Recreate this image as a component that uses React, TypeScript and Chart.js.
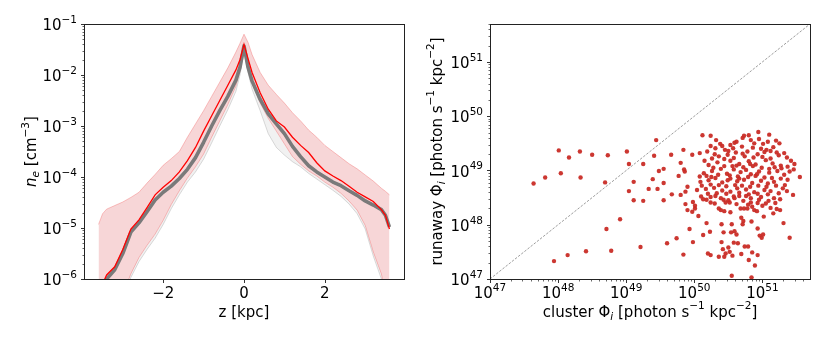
import React, { useEffect, useRef } from 'react';
import { Chart, registerables } from 'chart.js';

Chart.register(...registerables);

// ---------------- LEFT PANEL DATA (log10 n_e vs z) ----------------
const zKpc = [
  -3.6, -3.5, -3.4, -3.2, -3.0, -2.8, -2.6, -2.4, -2.2, -2.0, -1.8, -1.6, -1.4, -1.2, -1.0, -0.8, -0.6, -0.4, -0.2, -0.1,
  0,
  0.1, 0.2, 0.4, 0.6, 0.8, 1.0, 1.2, 1.4, 1.6, 1.8, 2.0, 2.2, 2.4, 2.6, 2.8, 3.0, 3.2, 3.4, 3.5, 3.6,
];
const logRedMedian = [
  -6.5, -6.1, -5.92, -5.76, -5.42, -5.02, -4.84, -4.6, -4.35, -4.2, -4.07, -3.9, -3.68, -3.42, -3.1, -2.8, -2.5, -2.2, -1.9, -1.7,
  -1.4,
  -1.68, -1.95, -2.35, -2.67, -2.9, -3.02, -3.22, -3.38, -3.52, -3.72, -3.88, -3.98, -4.07, -4.18, -4.3, -4.39, -4.48, -4.64, -4.75, -5.02,
];
const logGreyMedian = [
  -6.5, -6.2, -6.0, -5.82, -5.5, -5.08, -4.9, -4.68, -4.45, -4.3, -4.18, -4.03, -3.85, -3.62, -3.32, -3.0, -2.7, -2.42, -2.1, -1.85,
  -1.43,
  -1.85, -2.12, -2.48, -2.76, -2.96, -3.15, -3.4, -3.6, -3.78, -3.9, -4.0, -4.1, -4.17, -4.27, -4.36, -4.47, -4.55, -4.64, -4.75, -4.98,
];
const logRedUpper = [
  -4.93, -4.72, -4.63, -4.56, -4.49, -4.4, -4.3, -4.12, -3.95, -3.77, -3.64, -3.5, -3.22, -2.96, -2.7, -2.42, -2.14, -1.86, -1.55, -1.38,
  -1.2,
  -1.36, -1.6, -1.95, -2.2, -2.38, -2.55, -2.74, -2.9, -3.08, -3.22, -3.38, -3.5, -3.62, -3.74, -3.84, -3.96, -4.08, -4.22, -4.28, -4.35,
];
const logRedLower = [
  -7.0, -6.9, -6.8, -6.6, -6.3, -5.9, -5.58, -5.34, -5.12, -4.85, -4.54, -4.27, -4.02, -3.8, -3.55, -3.22, -2.9, -2.58, -2.22, -1.92,
  -1.5,
  -1.85, -2.15, -2.55, -2.85, -3.1, -3.35, -3.6, -3.75, -3.88, -3.98, -4.1, -4.2, -4.32, -4.47, -4.65, -4.95, -5.47, -5.9, -6.3, -6.6,
];
// grey spread: only its part outside the red spread is visible
const logGreyUpper = [
  -7.0, -6.9, -6.8, -6.6, -6.3, -5.9, -5.58, -5.34, -5.12, -4.85, -4.54, -4.27, -4.02, -3.8, -3.55, -3.22, -2.9, -2.58, -2.22, -1.92,
  -1.5,
  -1.85, -2.15, -2.55, -2.85, -3.1, -3.35, -3.6, -3.75, -3.88, -3.98, -4.1, -4.2, -4.32, -4.47, -4.65, -4.95, -5.47, -5.9, -6.3, -6.6,
];
const logGreyLower = [
  -7.1, -7.0, -6.9, -6.7, -6.4, -5.97, -5.66, -5.42, -5.2, -4.93, -4.62, -4.35, -4.1, -3.9, -3.65, -3.33, -3.0, -2.68, -2.32, -2.0,
  -1.55,
  -1.95, -2.28, -2.7, -3.15, -3.42, -3.57, -3.7, -3.8, -3.93, -4.04, -4.15, -4.26, -4.38, -4.53, -4.72, -5.02, -5.55, -6.0, -6.4, -6.7,
];

// ---------------- RIGHT PANEL DATA (log10 Phi) ----------------
const clusterLogPhi = [
  // sparse points
  47.64, 47.81, 48.01, 48.04, 48.16, 48.33, 48.32, 48.50, 48.73, 48.69,
  49.01, 49.04, 49.44, 49.41, 49.25, 49.48, 49.55, 49.66, 49.11, 49.04,
  49.11, 49.25, 49.33, 49.39, 49.46, 49.55, 49.55, 49.67, 49.77, 49.80,
  49.84, 49.86, 49.85, 49.90, 49.97, 49.97, 49.98, 49.93, 49.98, 49.84,
  49.74, 49.60, 49.21, 48.78, 48.41, 48.14, 47.94, 48.71, 48.91, 50.06,
  50.12, 50.24, 50.32, 50.24, 50.08, 50.08, 51.45, 51.55, 51.32, 51.36,
  50.94, 51.10, 50.80, 50.71,
  // lower part of cluster
  49.87, 50.01, 50.01, 49.90, 50.13, 50.18, 50.24, 50.31, 50.36, 50.39,
  50.44, 50.43, 50.46, 50.52, 50.53, 50.59, 50.66, 50.68, 50.73, 50.78,
  50.83, 50.85, 50.88, 50.92, 50.93, 51.00, 51.09, 51.12, 51.19, 51.21,
  51.26, 51.26, 51.16, 51.02, 50.69, 50.72, 50.84, 50.93, 50.71, 51.31,
  50.18, 50.40, 50.55, 50.23, 50.43, 50.54, 50.59, 50.62, 50.96, 50.99,
  51.01, 51.40, 50.13, 50.40, 50.50, 50.58, 50.64, 50.74, 50.79, 50.42,
  50.20, 50.24, 50.36, 50.44, 50.46, 50.52, 50.56, 50.69, 50.85, 50.93,
  50.80, 50.89, 50.55, 50.84,
  // upper part of cluster
  50.73, 50.31, 50.41, 50.53, 50.59, 50.83, 50.88, 51.01, 51.08, 51.25,
  51.21, 51.12, 50.26, 50.36, 50.49, 50.61, 50.71, 50.78, 50.93, 51.03,
  50.21, 50.34, 50.53, 50.66, 50.80, 50.90, 51.05, 51.15, 51.27, 51.37,
  50.14, 50.26, 50.39, 50.48, 50.58, 50.68, 50.76, 50.83, 50.95, 51.10,
  51.22, 51.32, 50.21, 50.31, 50.41, 50.53, 50.63, 50.73, 50.85, 50.98,
  51.08, 51.17, 50.04, 50.17, 50.29, 50.41, 50.53, 50.63, 50.76, 50.88,
  51.03, 51.12, 51.30, 49.80, 49.87, 50.24, 50.39, 50.58, 50.83, 50.98,
  51.17, 50.09,
  // core of cluster
  50.45, 50.57, 50.70, 50.86, 50.98, 51.16, 51.20, 50.95, 50.62, 50.50,
  50.30, 50.19, 50.15, 50.44, 50.58, 50.74, 50.87, 51.00, 51.12, 51.24,
  51.42, 51.47, 51.40, 51.46, 50.28, 50.44, 50.62, 50.72, 50.86, 50.99,
  51.18, 51.28, 50.18, 50.35, 50.52, 50.64, 50.79, 50.90, 51.03, 51.14,
  51.27, 51.37, 50.11, 50.24, 50.36, 50.47, 50.60, 50.70, 50.82, 50.94,
  51.06, 51.20, 51.33, 50.20, 50.33, 50.47, 50.66, 50.80, 50.93, 51.08,
  51.24, 50.50, 50.72, 50.95, 50.62, 50.79, 51.05, 50.30, 50.10, 50.56,
  50.82, 50.38, 51.06, 50.76, 50.49, 50.92, 50.25, 51.10, 50.66, 51.36,
];
const runawayLogPhi = [
  // sparse points
  48.76, 48.87, 49.37, 48.95, 49.24, 48.87, 49.35, 49.29, 49.28, 48.78,
  49.35, 49.12, 49.56, 49.27, 49.12, 48.99, 49.03, 49.29, 48.79, 48.62,
  48.45, 48.44, 48.66, 48.84, 48.66, 48.77, 48.45, 48.56, 48.90, 49.14,
  49.38, 48.98, 49.02, 48.70, 49.29, 48.24, 48.42, 47.92, 47.68, 47.45,
  47.75, 47.66, 47.59, 47.52, 47.51, 47.44, 47.33, 47.92, 48.10, 48.16,
  49.65, 49.64, 49.56, 49.45, 49.32, 48.89, 48.55, 48.88, 49.32, 49.24,
  49.71, 49.66, 49.65, 49.60,
  // lower part of cluster
  48.38, 48.35, 48.30, 48.27, 48.47, 48.46, 48.41, 48.53, 48.30, 48.27,
  48.25, 48.46, 48.41, 48.41, 48.23, 48.49, 48.53, 48.30, 48.30, 48.30,
  48.41, 48.33, 48.27, 48.25, 48.40, 48.35, 48.44, 48.31, 48.40, 48.29,
  48.27, 48.47, 48.21, 48.15, 48.13, 48.07, 48.06, 47.93, 48.01, 48.03,
  48.03, 48.01, 48.01, 47.87, 47.86, 47.86, 47.88, 47.82, 47.80, 47.76,
  47.82, 47.76, 47.81, 47.68, 47.58, 47.67, 47.66, 47.60, 47.60, 47.55,
  47.47, 47.44, 47.41, 47.41, 47.47, 47.50, 47.43, 47.46, 47.49, 47.44,
  47.35, 47.25, 47.06, 47.03,
  // upper part of cluster
  49.64, 49.41, 49.45, 49.47, 49.51, 49.56, 49.50, 49.49, 49.53, 49.50,
  49.33, 49.36, 49.22, 49.26, 49.29, 49.33, 49.31, 49.35, 49.30, 49.34,
  49.10, 49.15, 49.18, 49.12, 49.17, 49.11, 49.19, 49.13, 49.09, 49.07,
  48.95, 48.99, 49.03, 48.94, 49.02, 48.97, 49.01, 48.93, 48.98, 48.96,
  48.99, 48.92, 48.82, 48.86, 48.78, 48.85, 48.80, 48.83, 48.77, 48.81,
  48.76, 48.79, 48.64, 48.66, 48.68, 48.63, 48.61, 48.67, 48.65, 48.60,
  48.64, 48.62, 48.67, 48.55, 48.61, 48.51, 48.49, 48.52, 48.49, 48.51,
  48.49, 48.79,
  // core of cluster
  49.38, 49.41, 49.44, 49.42, 49.40, 49.43, 49.55, 49.58, 49.53, 49.36,
  49.30, 49.35, 49.18, 49.21, 49.23, 49.26, 49.24, 49.25, 49.22, 49.28,
  49.18, 49.12, 48.98, 49.02, 49.05, 49.08, 49.09, 49.06, 49.08, 49.05,
  49.06, 49.04, 48.90, 48.92, 48.91, 48.89, 48.88, 48.90, 48.87, 48.86,
  48.85, 48.83, 48.72, 48.74, 48.73, 48.71, 48.73, 48.72, 48.70, 48.72,
  48.70, 48.72, 48.73, 48.57, 48.58, 48.57, 48.59, 48.56, 48.57, 48.56,
  48.58, 48.45, 48.44, 48.46, 48.38, 48.37, 48.39, 48.39, 48.52, 49.08,
  49.12, 49.49, 49.38, 48.53, 48.82, 48.93, 48.88, 49.03, 48.85, 48.62,
];

// ---------------- TICKS ----------------
const leftXMajor = [-2, 0, 2];
const leftYExponents = [-6, -5, -4, -3, -2, -1];
const rightExponents = [47, 48, 49, 50, 51];

const FAMILY = '"DejaVu Sans", "Liberation Sans", sans-serif';
const MINUS = '\u2212';

type Seg = { t: string; size?: number; dy?: number; italic?: boolean };
type AxisSpec = { major: number[]; minor: number[]; label: (v: number) => Seg[] };
type PanelSpec = { x: AxisSpec; y: AxisSpec; xTitle: Seg[]; yTitle: Seg[]; yTitleX: number };

const fontOf = (s: Seg) => `${s.italic ? 'italic ' : ''}${s.size ?? 15}px ${FAMILY}`;

function richWidth(ctx: CanvasRenderingContext2D, segs: Seg[]) {
  let w = 0;
  for (const s of segs) {
    ctx.font = fontOf(s);
    w += ctx.measureText(s.t).width;
  }
  return w;
}

function drawRich(ctx: CanvasRenderingContext2D, segs: Seg[], x: number, y: number, align: 'left' | 'center' | 'right') {
  const w = richWidth(ctx, segs);
  let cx = align === 'center' ? x - w / 2 : align === 'right' ? x - w : x;
  ctx.textAlign = 'left';
  ctx.textBaseline = 'alphabetic';
  for (const s of segs) {
    ctx.font = fontOf(s);
    ctx.fillText(s.t, cx, y + (s.dy ?? 0));
    cx += ctx.measureText(s.t).width;
  }
}

const SUP = { size: 10.5, dy: -7.2 };
const SUB = { size: 10.5, dy: 3, italic: true };

function powLabel(exp: number): Seg[] {
  const e = exp < 0 ? MINUS + Math.abs(exp) : String(exp);
  return [{ t: '10' }, { t: e, ...SUP }];
}

function logMinor(lo: number, hi: number, max: number) {
  const out: number[] = [];
  for (let e = lo; e <= hi; e++) {
    for (let k = 2; k <= 9; k++) {
      const v = k * Math.pow(10, e);
      if (v <= max * 1.0001) out.push(v);
    }
  }
  return out;
}

function makeAxesPlugin(spec: PanelSpec) {
  return {
    id: 'mplAxes',
    afterDatasetsDraw(chart: any) {
      const ctx: CanvasRenderingContext2D = chart.ctx;
      const a = chart.chartArea;
      const xs = chart.scales.x;
      const ys = chart.scales.y;
      ctx.save();
      ctx.strokeStyle = '#000';
      ctx.fillStyle = '#000';
      const bottom = Math.round(a.bottom) + 0.5;
      const left = Math.round(a.left) + 0.5;
      // minor ticks
      ctx.lineWidth = 0.6;
      ctx.beginPath();
      for (const v of spec.x.minor) {
        const p = Math.round(xs.getPixelForValue(v)) + 0.5;
        if (p < a.left || p > a.right) continue;
        ctx.moveTo(p, bottom);
        ctx.lineTo(p, bottom + 2);
      }
      for (const v of spec.y.minor) {
        const p = Math.round(ys.getPixelForValue(v)) + 0.5;
        if (p < a.top || p > a.bottom + 1) continue;
        ctx.moveTo(left, p);
        ctx.lineTo(left - 2, p);
      }
      ctx.stroke();
      // major ticks
      ctx.lineWidth = 0.8;
      ctx.beginPath();
      for (const v of spec.x.major) {
        const p = Math.round(xs.getPixelForValue(v)) + 0.5;
        ctx.moveTo(p, bottom);
        ctx.lineTo(p, bottom + 3.5);
      }
      for (const v of spec.y.major) {
        const p = Math.round(ys.getPixelForValue(v)) + 0.5;
        ctx.moveTo(left, p);
        ctx.lineTo(left - 3.5, p);
      }
      ctx.stroke();
      // spines
      ctx.strokeStyle = '#222';
      ctx.lineWidth = 1;
      ctx.strokeRect(left, Math.round(a.top) + 0.5, Math.round(a.right) - Math.round(a.left), Math.round(a.bottom) - Math.round(a.top));
      // tick labels
      ctx.fillStyle = '#000';
      for (const v of spec.x.major) {
        drawRich(ctx, spec.x.label(v), xs.getPixelForValue(v), a.bottom + 19.3, 'center');
      }
      for (const v of spec.y.major) {
        drawRich(ctx, spec.y.label(v), a.left - 7, ys.getPixelForValue(v) + 6.2, 'right');
      }
      // titles
      drawRich(ctx, spec.xTitle, (a.left + a.right) / 2, 316.5, 'center');
      ctx.translate(spec.yTitleX, (a.top + a.bottom) / 2);
      ctx.rotate(-Math.PI / 2);
      drawRich(ctx, spec.yTitle, 0, 0, 'center');
      ctx.restore();
    },
  };
}

const toPts = (logs: number[]) => zKpc.map((z, i) => ({ x: z, y: Math.pow(10, logs[i]) }));

const leftSpec: PanelSpec = {
  x: {
    major: leftXMajor,
    minor: [],
    label: (v) => [{ t: v < 0 ? MINUS + Math.abs(v) : String(v) }],
  },
  y: {
    major: leftYExponents.map((e) => Math.pow(10, e)),
    minor: logMinor(-6, -2, 0.1),
    label: (v) => powLabel(Math.round(Math.log10(v))),
  },
  xTitle: [{ t: 'z [kpc]' }],
  yTitle: [{ t: 'n', italic: true }, { t: 'e', ...SUB }, { t: ' [cm' }, { t: MINUS + '3', ...SUP }, { t: ']' }],
  yTitleX: 36,
};

const rightSpec: PanelSpec = {
  x: {
    major: rightExponents.map((e) => Math.pow(10, e)),
    minor: logMinor(47, 51, 5e51),
    label: (v) => powLabel(Math.round(Math.log10(v))),
  },
  y: {
    major: rightExponents.map((e) => Math.pow(10, e)),
    minor: logMinor(47, 51, 5e51),
    label: (v) => powLabel(Math.round(Math.log10(v))),
  },
  xTitle: [
    { t: 'cluster \u03A6' }, { t: 'i', ...SUB }, { t: ' [photon s' }, { t: MINUS + '1', ...SUP },
    { t: ' kpc' }, { t: MINUS + '2', ...SUP }, { t: ']' },
  ],
  yTitle: [
    { t: 'runaway \u03A6' }, { t: 'i', ...SUB }, { t: ' [photon s' }, { t: MINUS + '1', ...SUP },
    { t: ' kpc' }, { t: MINUS + '2', ...SUP }, { t: ']' },
  ],
  yTitleX: 26.5,
};

const lineDs = (logs: number[], extra: any) => ({
  data: toPts(logs),
  pointRadius: 0,
  tension: 0,
  fill: false,
  ...extra,
});

export default function App() {
  const leftRef = useRef<HTMLCanvasElement>(null);
  const rightRef = useRef<HTMLCanvasElement>(null);

  useEffect(() => {
    const left = new Chart(leftRef.current!, {
      type: 'line',
      data: {
        datasets: [
          lineDs(logRedMedian, { borderColor: '#ff0000', borderWidth: 1.3 }),
          lineDs(logGreyMedian, { borderColor: '#7a7a7a', borderWidth: 3.6, borderJoinStyle: 'round' }),
          lineDs(logRedUpper, { borderColor: 'rgba(240,90,90,0.35)', borderWidth: 1, backgroundColor: 'rgba(214,39,40,0.19)', fill: '+1' }),
          lineDs(logRedLower, { borderColor: 'rgba(240,90,90,0.35)', borderWidth: 1 }),
          lineDs(logGreyUpper, { borderColor: 'rgba(128,128,128,0)', borderWidth: 0, backgroundColor: 'rgba(128,128,128,0.11)', fill: '+1' }),
          lineDs(logGreyLower, { borderColor: 'rgba(128,128,128,0.28)', borderWidth: 1 }),
        ] as any,
      },
      options: {
        responsive: false,
        animation: false,
        devicePixelRatio: 1,
        events: [],
        layout: { padding: { left: 84, right: 11, top: 24, bottom: 67 } },
        scales: {
          x: { type: 'linear', min: -3.96, max: 3.96, display: false },
          y: { type: 'logarithmic', min: 1e-6, max: 1e-1, display: false },
        },
        plugins: { legend: { display: false }, tooltip: { enabled: false } },
      },
      plugins: [makeAxesPlugin(leftSpec)],
    } as any);

    const right = new Chart(rightRef.current!, {
      type: 'scatter',
      data: {
        datasets: [
          {
            data: clusterLogPhi.map((x, i) => ({ x: Math.pow(10, x), y: Math.pow(10, runawayLogPhi[i]) })),
            pointRadius: 2.2,
            pointBackgroundColor: 'rgba(201,44,38,0.95)',
            pointBorderWidth: 0,
          },
          {
            data: [{ x: 1e47, y: 1e47 }, { x: 5e51, y: 5e51 }],
            showLine: true,
            pointRadius: 0,
            borderColor: 'rgba(90,90,90,0.75)',
            borderWidth: 0.8,
            borderDash: [2.5, 1.5],
          },
        ] as any,
      },
      options: {
        responsive: false,
        animation: false,
        devicePixelRatio: 1,
        events: [],
        layout: { padding: { left: 75, right: 20, top: 24, bottom: 67 } },
        scales: {
          x: { type: 'logarithmic', min: 1e47, max: 5e51, display: false },
          y: { type: 'logarithmic', min: 1e47, max: 5e51, display: false },
        },
        plugins: { legend: { display: false }, tooltip: { enabled: false } },
      },
      plugins: [makeAxesPlugin(rightSpec)],
    } as any);

    return () => {
      left.destroy();
      right.destroy();
    };
  }, []);

  return (
    <div style={{ position: 'fixed', left: 0, top: 0, width: 830, height: 346, background: '#fff' }}>
      <canvas ref={leftRef} width={415} height={346} style={{ position: 'absolute', left: 0, top: 0, width: 415, height: 346 }} />
      <canvas ref={rightRef} width={415} height={346} style={{ position: 'absolute', left: 415, top: 0, width: 415, height: 346 }} />
    </div>
  );
}
